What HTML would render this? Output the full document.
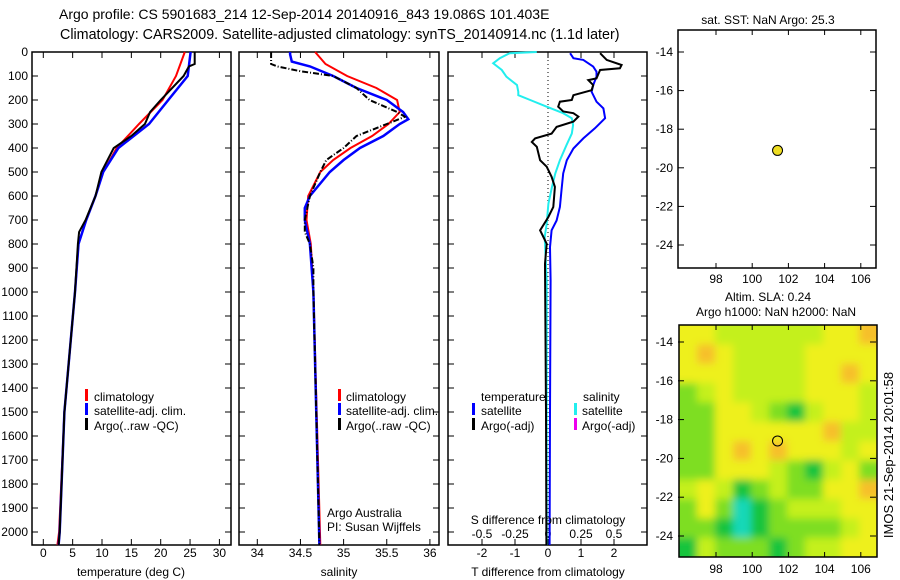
<!DOCTYPE html>
<html><head><meta charset="utf-8">
<style>
html,body{margin:0;padding:0;background:#fff;}
svg{display:block;font-family:"Liberation Sans",sans-serif;}
text{font-size:12px;fill:#000;}
</style></head>
<body>
<svg id="c" width="900" height="580" viewBox="0 0 900 580">
<defs>
<filter id="blur" x="0" y="0" width="1" height="1"><feGaussianBlur stdDeviation="4"/></filter>
<clipPath id="mapclip"><rect x="679" y="325" width="198" height="232"/></clipPath>
</defs>
</svg>
<script>
// ---- data ----
const tempDepthArgo=[0,50,60,100,200,250,300,350,400,500,600,700,750,800,1000,1500,2000,2054];
const tempArgo=[25.8,25.8,24.8,23.9,20,18.2,17.3,15,12,9.9,8.9,7.2,6.1,5.9,5.4,3.6,2.8,2.6];
const tempDepthClim=[0,100,200,300,400,500,600,700,800,1000,1500,2000,2054];
const tempClim=[24.1,22.6,20.3,16.3,12.5,10.2,8.9,7.3,6,5.4,3.6,2.7,2.4];
const tempSat=[25.1,24.6,21.3,18,12.8,10.2,8.9,7.3,6,5.4,3.6,2.8,2.6];
const salDepthArgo=[0,50,60,80,100,150,200,250,270,300,350,400,450,500,600,700,750,800,900,1000,2054];
const salArgo=[34.16,34.16,34.23,34.5,34.88,35.15,35.3,35.62,35.71,35.5,35.15,35.0,34.8,34.73,34.61,34.55,34.55,34.61,34.65,34.65,34.72];
const salDepthClim=[0,50,100,150,200,250,300,350,400,450,500,600,700,800,1000,2054];
const salClim=[34.67,34.79,35.04,35.38,35.62,35.65,35.52,35.33,35.08,34.88,34.73,34.59,34.57,34.62,34.65,34.73];
const salDepthSat=[0,10,40,60,100,150,200,250,280,300,350,400,450,500,600,650,700,800,1000,2054];
const salSat=[34.38,34.38,34.4,34.61,34.88,35.15,35.5,35.69,35.75,35.65,35.46,35.19,35.0,34.84,34.61,34.55,34.55,34.61,34.65,34.72];
const dTDepthArgo=[5,33,54,68,75,110,117,138,159,180,200,207,228,248,255,269,290,312,340,360,375,395,451,478,520,562,646,688,743,771,799,882,1500,2054];
const dTArgo=[1.58,1.78,2.23,2.18,1.58,1.47,1.22,1.37,1.32,0.77,0.72,0.36,0.31,0.46,0.77,0.92,0.77,0.26,0.11,-0.39,-0.49,-0.34,-0.24,-0.04,0.11,0.21,0.16,0.01,-0.24,-0.14,-0.04,-0.09,-0.06,-0.05];
const dTDepthSat=[5,26,33,61,82,103,138,166,207,235,276,318,360,402,451,506,576,646,702,743,813,952,1500,2054];
const dTSat=[0.67,0.77,1.07,1.37,1.47,1.47,1.37,1.32,1.47,1.68,1.73,1.42,1.07,0.77,0.57,0.46,0.41,0.36,0.26,0.11,0.06,0.08,0.06,0.05];
const dSDepthSat=[0,5,26,47,75,103,138,166,180,200,228,255,276,304,340,388,451,506,562,632,715,771,952,1500,2054];
const dSSat=[-0.085,-0.29,-0.365,-0.415,-0.35,-0.315,-0.235,-0.225,-0.225,-0.135,-0.01,0.115,0.18,0.19,0.18,0.14,0.09,0.055,0.03,0.003,-0.01,-0.025,-0.01,-0.01,-0.01];
const depthTicks=[0,100,200,300,400,500,600,700,800,900,1000,1100,1200,1300,1400,1500,1600,1700,1800,1900,2000];
const tempTicks=[0,5,10,15,20,25,30];
const salTicks=[34,34.5,35,35.5,36];
const salTickLabels=["34","34.5","35","35.5","36"];
const dTTicks=[-2,-1,0,1,2];
const dSTicks=[-0.5,-0.25,0,0.25,0.5];
const dSTickLabels=["-0.5","-0.25","0","0.25","0.5"];
const lonTicks=[98,100,102,104,106];
const latTicks=[-14,-16,-18,-20,-22,-24];
const argoLon=101.4, argoLat=-19.1;
// SLA colour class grid (rows north->south), 0 orange .. 5 teal
const slaGrid=[
[1,1,2,2,2,2,2,2,1,1,0],
[1,0,1,2,2,2,2,1,1,1,1],
[1,1,1,2,2,2,2,1,1,0,1],
[3,2,1,2,2,2,2,1,1,1,2],
[3,3,1,1,2,3,4,2,1,1,2],
[3,3,1,1,1,1,1,1,0,2,2],
[3,3,1,0,1,0,1,1,1,2,1],
[3,3,1,1,1,2,3,4,2,1,3],
[2,1,2,4,3,2,3,3,1,1,0],
[3,1,3,5,4,3,2,2,2,1,1],
[3,3,4,5,4,3,3,3,3,2,1],
[4,2,3,3,3,4,3,2,2,1,1]];
const slaColors=["#f6c02a","#eef01e","#c4f01a","#7ede22","#14c43c","#18d8b8"];

// ---- helpers ----
const NS="http://www.w3.org/2000/svg";
const svg=document.getElementById('c');
function el(tag,attrs,parent){const e=document.createElementNS(NS,tag);for(const k in attrs)e.setAttribute(k,attrs[k]);(parent||svg).appendChild(e);return e;}
function txt(x,y,s,anchor,parent,name){const t=el('text',{x:x,y:y,'text-anchor':anchor||'start'},parent);t.textContent=s;


return t;}
const Y0=52, YS=0.24; // depth axis
const yD=d=>Y0+d*YS;
function panel(x0,x1,name){const g=el('g',{});


el('rect',{x:x0,y:52,width:x1-x0,height:493,fill:'none',stroke:'#000','stroke-width':1.5},g);return g;}
function line(g,xs,ds,fx,color,w,dash,name){const pts=xs.map((v,i)=>fx(v).toFixed(1)+','+yD(ds[i]).toFixed(1)).join(' ');
const p=el('polyline',{points:pts,fill:'none',stroke:color,'stroke-width':w},g);if(dash)p.setAttribute('stroke-dasharray',dash);


return p;}
function depthTicksOn(g,x0,x1,labels){depthTicks.forEach(d=>{const y=yD(d);
el('line',{x1:x0,y1:y,x2:x0+6,y2:y,stroke:'#000'},g);el('line',{x1:x1-6,y1:y,x2:x1,y2:y,stroke:'#000'},g);
if(labels)txt(28,y+4,String(d),'end',g,'depth-tick-label');});}
function xTicks(g,vals,labs,fx,yl){vals.forEach((v,i)=>{const x=fx(v);
el('line',{x1:x,y1:545,x2:x,y2:539,stroke:'#000'},g);el('line',{x1:x,y1:52,x2:x,y2:58,stroke:'#000'},g);
if(yl)txt(x,yl,labs[i],'middle',g,'x-tick-label');});}
function legendBar(g,x,y,color){const r=el('rect',{x:x,y:y-10,width:3,height:12,fill:color},g);

}

// titles
txt(59,19,"Argo profile: CS 5901683_214 12-Sep-2014 20140916_843 19.086S 101.403E",'start',svg,'title-line-1').setAttribute('style','font-size:14px');
txt(60,39,"Climatology: CARS2009. Satellite-adjusted climatology: synTS_20140914.nc (1.1d later)",'start',svg,'title-line-2').setAttribute('style','font-size:14.3px');

// panel 1 temperature
const fT=v=>43.3+v*5.87;
const g1=panel(32,231,'temperature-panel');
depthTicksOn(g1,32,231,true);
xTicks(g1,tempTicks,tempTicks.map(String),fT,557);
line(g1,tempClim,tempDepthClim,fT,'#ff0000',2,null,'temp-climatology-line');
line(g1,tempSat,tempDepthClim,fT,'#0000ff',2.5,null,'temp-satellite-line');
line(g1,tempArgo,tempDepthArgo,fT,'#000000',2,null,'temp-argo-line');
txt(131,576,"temperature (deg C)",'middle',g1,'temperature-axis-title');
legendBar(g1,85,399,'#f00');txt(94,401,"climatology",'start',g1,'legend-climatology');
legendBar(g1,85,413,'#00f');txt(94,415,"satellite-adj. clim.",'start',g1,'legend-satellite');
legendBar(g1,85,428,'#000');txt(94,430,"Argo(..raw -QC)",'start',g1,'legend-argo');

// panel 2 salinity
const fS=v=>257.3+(v-34)*86.3;
const g2=panel(239,439,'salinity-panel');
depthTicksOn(g2,239,439,false);
xTicks(g2,salTicks,salTickLabels,fS,557);
line(g2,salClim,salDepthClim,fS,'#ff0000',2,null,'sal-climatology-line');
line(g2,salSat,salDepthSat,fS,'#0000ff',2.5,null,'sal-satellite-line');
line(g2,salArgo,salDepthArgo,fS,'#000000',2,'6,2,1,2','sal-argo-line');
txt(339,576,"salinity",'middle',g2,'salinity-axis-title');
legendBar(g2,338,399,'#f00');txt(346,401,"climatology",'start',g2,'legend-climatology');
legendBar(g2,338,413,'#00f');txt(346,415,"satellite-adj. clim.",'start',g2,'legend-satellite');
legendBar(g2,338,428,'#000');txt(346,430,"Argo(..raw -QC)",'start',g2,'legend-argo');
txt(327,517,"Argo Australia",'start',g2,'credit-line-1');
txt(327,531,"PI: Susan Wijffels",'start',g2,'credit-line-2');

// panel 3 differences
const fdT=v=>548+v*33, fdS=v=>548+v*132;
const g3=panel(448,647,'difference-panel');
depthTicksOn(g3,448,647,false);
xTicks(g3,dTTicks,dTTicks.map(String),fdT,557);
dSTicks.forEach((v,i)=>txt(fdS(v),538,dSTickLabels[i],'middle',g3,'s-tick-label'));
el('line',{x1:548,y1:52,x2:548,y2:545,stroke:'#000','stroke-dasharray':'1,3'},g3);
line(g3,dSSat,dSDepthSat,fdS,'#22eeee',2,null,'s-diff-satellite-line');
line(g3,dTSat,dTDepthSat,fdT,'#0000ff',2,null,'t-diff-satellite-line');
line(g3,dTArgo,dTDepthArgo,fdT,'#000000',2,null,'t-diff-argo-line');
txt(548,524,"S difference from climatology",'middle',g3,'s-axis-title');
txt(548,576,"T difference from climatology",'middle',g3,'t-axis-title');
txt(481,401,"temperature",'start',g3,'legend-temperature-header');
txt(583,401,"salinity",'start',g3,'legend-salinity-header');
legendBar(g3,472,413,'#00f');txt(481,415,"satellite",'start',g3,'legend-t-satellite');
legendBar(g3,472,428,'#000');txt(481,430,"Argo(-adj)",'start',g3,'legend-t-argo');
legendBar(g3,574,413,'#2ee');txt(582,415,"satellite",'start',g3,'legend-s-satellite');
legendBar(g3,574,428,'#e0e');txt(582,430,"Argo(-adj)",'start',g3,'legend-s-argo');

// maps
const fLon=v=>716+(v-98)*18.1;
function mapAxes(g,top,bot,latY,xl){
  lonTicks.forEach(v=>{const x=fLon(v);el('line',{x1:x,y1:top,x2:x,y2:top+5,stroke:'#000'},g);el('line',{x1:x,y1:bot,x2:x,y2:bot-5,stroke:'#000'},g);
   if(xl)txt(x,xl,String(v),'middle',g,'lon-tick-label');});
  latTicks.forEach(v=>{const y=latY(v);el('line',{x1:678,y1:y,x2:684,y2:y,stroke:'#000'},g);el('line',{x1:876,y1:y,x2:870,y2:y,stroke:'#000'},g);
   txt(673,y+4,String(v),'end',g,'lat-tick-label');});
}
// SST map
const lat1=v=>52+(-14-v)*19.3;
const gm1=el('g',{});


el('rect',{x:678,y:30,width:198,height:238,fill:'#fff',stroke:'#000','stroke-width':1.5},gm1);
mapAxes(gm1,30,268,lat1,283);
txt(768,24,"sat. SST: NaN Argo: 25.3",'middle',gm1,'sst-map-title');
const d1=el('circle',{cx:fLon(argoLon),cy:lat1(argoLat),r:5,fill:'#eedd22',stroke:'#000'},gm1);


// SLA map
const lat2=v=>342+(-14-v)*19.4;
const gm2=el('g',{});


const clipG=el('g',{'clip-path':'url(#mapclip)'},gm2);
const cells=el('g',{filter:'url(#blur)'},clipG);
const cw=198/slaGrid[0].length, ch=232/slaGrid.length;
el('rect',{x:660,y:305,width:240,height:270,fill:slaColors[2]},cells);
slaGrid.forEach((row,r)=>row.forEach((c,k)=>{
let x=679+k*cw, y=325+r*ch, w=cw+0.5, h=ch+0.5;
if(k===0){x-=20;w+=20;} if(k===row.length-1){w+=20;}
if(r===0){y-=20;h+=20;} if(r===slaGrid.length-1){h+=20;}
const rc=el('rect',{x:x,y:y,width:w,height:h,fill:slaColors[c]},cells);

}));
el('rect',{x:679,y:325,width:198,height:232,fill:'none',stroke:'#000','stroke-width':1.5},gm2);
mapAxes(gm2,325,557,lat2,573);
txt(768,301,"Altim. SLA: 0.24",'middle',gm2,'sla-map-title');
txt(776,316,"Argo h1000: NaN h2000: NaN",'middle',gm2,'sla-map-subtitle');
const d2=el('circle',{cx:fLon(argoLon),cy:lat2(argoLat),r:5,fill:'none',stroke:'#000'},gm2);


const rt=txt(0,0,"IMOS 21-Sep-2014 20:01:58",'middle',svg,'timestamp');
rt.setAttribute('transform','translate(893,455) rotate(-90)');
rt.setAttribute('style','font-size:13px');
</script>
</body></html>
